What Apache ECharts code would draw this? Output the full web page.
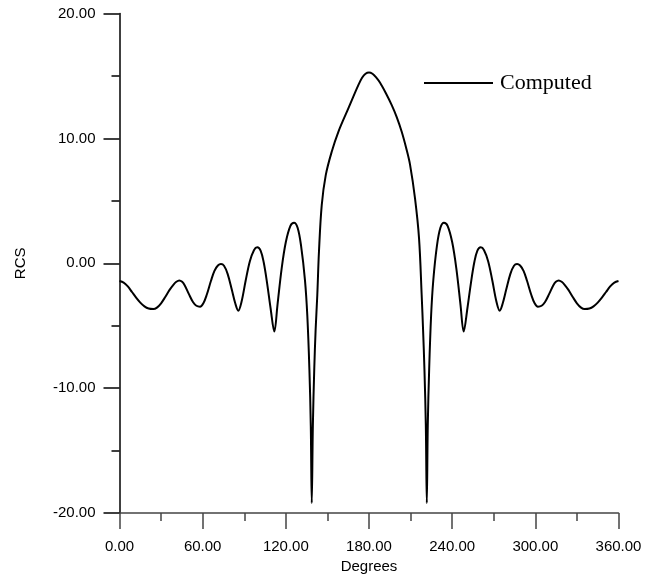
<!DOCTYPE html>
<html>
<head>
<meta charset="utf-8">
<script src="https://cdn.jsdelivr.net/npm/echarts@6/dist/echarts.min.js"></script>
<style>
html,body{margin:0;padding:0;background:#fff;}
#chart{width:657px;height:579px;}
</style>
</head>
<body>
<div id="chart"></div>
<script>
var seriesName = "Computed";
var xTickLabels = ["0.00","60.00","120.00","180.00","240.00","300.00","360.00"];
var yTickLabels = ["-20.00","-10.00","0.00","10.00","20.00"];
var degrees = [0,3,6,9,12,15,18,21,24.4,27,30,33,36,39,41,43.1,45.2,47,50,53,55.5,58.1,60.5,63,66,68.5,71,73.2,75.4,78,81,83.5,85.7,88,91,94,97,99.4,101.8,104,106.5,109,111.7,114,117,120,123.3,125.9,128.5,131,133.8,135.5,137,138,138.7,139.5,140.5,141.5,142.7,143.9,145.9,148.8,153.1,157.9,165.1,172.3,175,177.5,180,
  182.5,185,188,192,196.4,200,203.6,207,209.6,213.2,216.1,218,219,220,221,221.7,222.4,223.4,224.8,226.4,229,231.5,234.1,236.7,240,243,246,248.3,251,253.5,256,258.2,260.6,263,266,269,272,274.3,276.5,279,282,284.6,286.8,289,291.5,294,297,299.5,301.9,304.5,307,310,313,314.8,316.9,319,321,324,327,330,333,335.6,339,342,345,348,351,354,357,360];
var rcs = [-1.42,-1.55,-1.85,-2.3,-2.75,-3.15,-3.45,-3.62,-3.66,-3.55,-3.2,-2.7,-2.15,-1.7,-1.48,-1.37,-1.48,-1.75,-2.45,-3.1,-3.4,-3.47,-3.2,-2.5,-1.4,-0.6,-0.18,-0.06,-0.2,-0.85,-2.1,-3.2,-3.79,-3.1,-1.4,0.15,1.05,1.28,1.02,0.1,-1.6,-3.6,-5.47,-3.3,-0.4,1.7,3.0,3.25,2.85,1.4,-1.34,-4.2,-8.5,-13,-19.2,-13,-8.5,-5.3,-2.54,0.93,4.66,7.06,8.93,10.53,12.4,14.26,14.85,15.18,15.28,
  15.18,14.9,14.45,13.65,12.66,11.7,10.53,9.15,7.9,5.2,2.0,-2.54,-5.3,-8.5,-13,-19.2,-13,-8.5,-4.2,-1.34,1.4,2.85,3.25,3.0,1.7,-0.4,-3.3,-5.47,-3.6,-1.6,0.1,1.02,1.28,1.05,0.15,-1.4,-3.1,-3.79,-3.2,-2.1,-0.85,-0.2,-0.06,-0.18,-0.6,-1.4,-2.5,-3.2,-3.47,-3.4,-3.1,-2.45,-1.75,-1.48,-1.37,-1.48,-1.7,-2.15,-2.7,-3.2,-3.55,-3.66,-3.62,-3.45,-3.15,-2.75,-2.3,-1.85,-1.55,-1.42];

var points = degrees.map(function(d, i){ return [d, rcs[i]]; });
var chart = echarts.init(document.getElementById('chart'), null, {renderer:'canvas'});
var sans = "'Liberation Sans', Arial, sans-serif";
var option = {
  animation: false,
  backgroundColor: '#ffffff',
  grid: {left: 119.5, right: 38.5, top: 13.5, bottom: 65, containLabel: false},
  legend: {
    show: true, left: 424, top: 72, padding: 0, icon: 'rect', itemWidth: 69, itemHeight: 2,
    data: [seriesName],
    textStyle: {fontFamily: "'Liberation Serif', 'Times New Roman', serif", fontSize: 22, color: '#000', padding: [0,0,0,2]},
    itemStyle: {color: '#000'}
  },
  xAxis: {
    type: 'value', min: 0, max: 360, interval: 60,
    name: 'Degrees', nameLocation: 'middle', nameGap: 45,
    nameTextStyle: {fontFamily: sans, fontSize: 15, color: '#000'},
    axisLine: {show: true, onZero: false, lineStyle: {color: '#444', width: 1.5}},
    axisTick: {show: true, inside: false, length: 16, lineStyle: {color: '#444', width: 1.5}},
    minorTick: {show: true, splitNumber: 2, length: 8, lineStyle: {color: '#444', width: 1.5}},
    splitLine: {show: false},
    axisLabel: {margin: 26, fontFamily: sans, fontSize: 15, color: '#000',
      formatter: function(v){ return xTickLabels[Math.round(v/60)]; }}
  },
  yAxis: {
    type: 'value', min: -20, max: 20, interval: 10,
    name: 'RCS', nameLocation: 'middle', nameGap: 91, nameRotate: 90,
    nameTextStyle: {fontFamily: sans, fontSize: 15, color: '#000'},
    axisLine: {show: true, onZero: false, lineStyle: {color: '#000', width: 1.5}},
    axisTick: {show: true, inside: false, length: 16, lineStyle: {color: '#000', width: 1.5}},
    minorTick: {show: true, splitNumber: 2, length: 8, lineStyle: {color: '#000', width: 1.5}},
    splitLine: {show: false},
    axisLabel: {margin: 24, fontFamily: sans, fontSize: 15, color: '#000',
      formatter: function(v){ return yTickLabels[Math.round((v+20)/10)]; }}
  },
  series: [{
    name: seriesName, type: 'line', data: points, showSymbol: false, symbol: 'none',
    smooth: 0.35, lineStyle: {color: '#000', width: 2}, itemStyle: {color: '#000'}
  }]
};
chart.setOption(option);
</script>
</body>
</html>
